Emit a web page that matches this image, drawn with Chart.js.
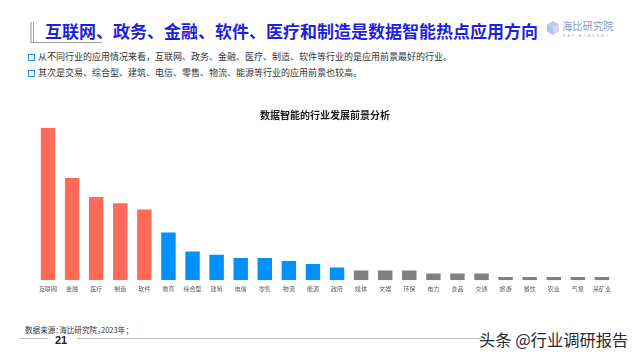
<!DOCTYPE html>
<html>
<head>
<meta charset="utf-8">
<script src="https://cdn.jsdelivr.net/npm/chart.js@4/dist/chart.umd.min.js"></script>
<style>
  html, body { margin: 0; padding: 0; background: #fff; }
  body { width: 640px; height: 360px; position: relative; overflow: hidden; font-family: "Noto Sans CJK SC", "Noto Sans", sans-serif; }
  .abs { position: absolute; white-space: nowrap; }
  #title { left: 45px; top: 19px; font-size: 17px; font-weight: 700; color: #1f1fe0; line-height: 24px; letter-spacing: 0; }
  .bullet { left: 28px; width: 5px; height: 5px; border: 1.3px solid #1e8ff0; }
  .btxt { left: 38px; font-size: 9px; color: #333; line-height: 12px; }
  #src { left: 25px; top: 324px; font-size: 7.6px; color: #333; line-height: 12px; font-feature-settings: "halt"; }
  #page { left: 55px; top: 333px; font-size: 11px; font-weight: 700; color: #222; line-height: 14px; font-family: "Liberation Sans", Arial, sans-serif; }
  #wm { left: 479px; top: 328px; font-size: 16.3px; color: #2a2a2a; line-height: 22px; text-shadow: 0 0 2px #fff; }
  #chartWrap { position: absolute; left: 0; top: 100px; width: 640px; height: 200px; }
</style>
</head>
<body>
<!-- header decoration -->
<div class="abs" style="left:30px;top:22px;width:2px;height:21px;background:#c8c8c8;"></div>
<div class="abs" style="left:33px;top:22px;width:1px;height:21px;background:#a0a0a0;"></div>
<div class="abs" style="left:31px;top:42px;width:71px;height:1px;background:#a0a0a0;"></div>
<div class="abs" id="title">互联网、政务、金融、软件、医疗和制造是数据智能热点应用方向</div>

<!-- logo -->
<svg class="abs" style="left:546px;top:20px;" width="14" height="16" viewBox="0 0 14 16">
  <polygon points="7,1 13,4.5 7,8 1,4.5" fill="#c9c3ef"/>
  <polygon points="1,4.5 7,8 7,15 1,11.5" fill="#a9c6ef"/>
  <polygon points="13,4.5 7,8 7,15 13,11.5" fill="#d7d2f3"/>
</svg>
<div class="abs" style="left:562px;top:19px;font-size:10.3px;color:#8795c4;line-height:14px;">海比研究院</div>
<div class="abs" style="left:563px;top:34px;font-size:3.5px;color:#9aa6cc;line-height:5px;letter-spacing:2px;font-family:'Liberation Sans',sans-serif;">HAP ACADEMY</div>

<!-- bullets -->
<div class="abs bullet" style="top:53.5px;"></div>
<div class="abs btxt" style="top:51px;">从不同行业的应用情况来看，互联网、政务、金融、医疗、制造、软件等行业的是应用前景最好的行业。</div>
<div class="abs bullet" style="top:69.5px;"></div>
<div class="abs btxt" style="top:67px;">其次是交易、综合型、建筑、电信、零售、物流、能源等行业的应用前景也较高。</div>

<div id="chartWrap"><canvas id="c" width="640" height="200"></canvas></div>

<!-- footer -->
<div class="abs" id="src">数据来源：海比研究院，2023年；</div>
<div class="abs" style="left:20px;top:338px;width:28px;height:1px;background:#bdbdbd;"></div>
<div class="abs" id="page">21</div>
<div class="abs" style="left:77px;top:338px;width:405px;height:1px;background:#bdbdbd;"></div>
<div class="abs" id="wm">头条 @行业调研报告</div>

<script>
const categories = ["互联网","金融","医疗","制造","软件","教育","综合型","建筑","电信","零售","物流","能源","政府","媒体","文娱","环保","电力","食品","交通","旅游","餐饮","农业","气象","采矿业"];
const values = [45, 30.2, 24.6, 22.7, 20.9, 14.1, 8.5, 7.5, 6.6, 6.6, 5.7, 4.8, 3.8, 2.9, 2.9, 2.9, 2, 2, 2, 1, 1, 1, 1, 1];
const tiers = ["top","top","top","top","top","mid","mid","mid","mid","mid","mid","mid","mid","low","low","low","low","low","low","low","low","low","low","low"];
const tierColors = { top: "#ff6a5a", mid: "#0091ff", low: "#808080" };
const chartTitle = "数据智能的行业发展前景分析";

new Chart(document.getElementById("c"), {
  type: "bar",
  data: {
    labels: categories,
    datasets: [{
      data: values,
      backgroundColor: tiers.map(t => tierColors[t]),
      borderWidth: 0,
      barPercentage: 0.6,
      categoryPercentage: 1.0
    }]
  },
  options: {
    responsive: false,
    animation: false,
    layout: { padding: { left: 36, right: 26, top: 0, bottom: 2.5 } },
    plugins: {
      legend: { display: false },
      tooltip: { enabled: false },
      title: {
        display: true,
        text: chartTitle,
        color: "#1a1a1a",
        font: { family: "'Noto Sans CJK SC', sans-serif", size: 10, weight: "bold" },
        padding: { top: 9, bottom: 6.7 }
      }
    },
    scales: {
      x: {
        grid: { display: false, drawTicks: false },
        border: { display: false },
        ticks: {
          color: "#595959",
          font: { family: "'Noto Sans CJK SC', sans-serif", size: 6 },
          padding: 5,
          maxRotation: 0,
          autoSkip: false
        }
      },
      y: {
        display: false,
        min: 0,
        max: 45
      }
    }
  }
});
</script>
</body>
</html>
